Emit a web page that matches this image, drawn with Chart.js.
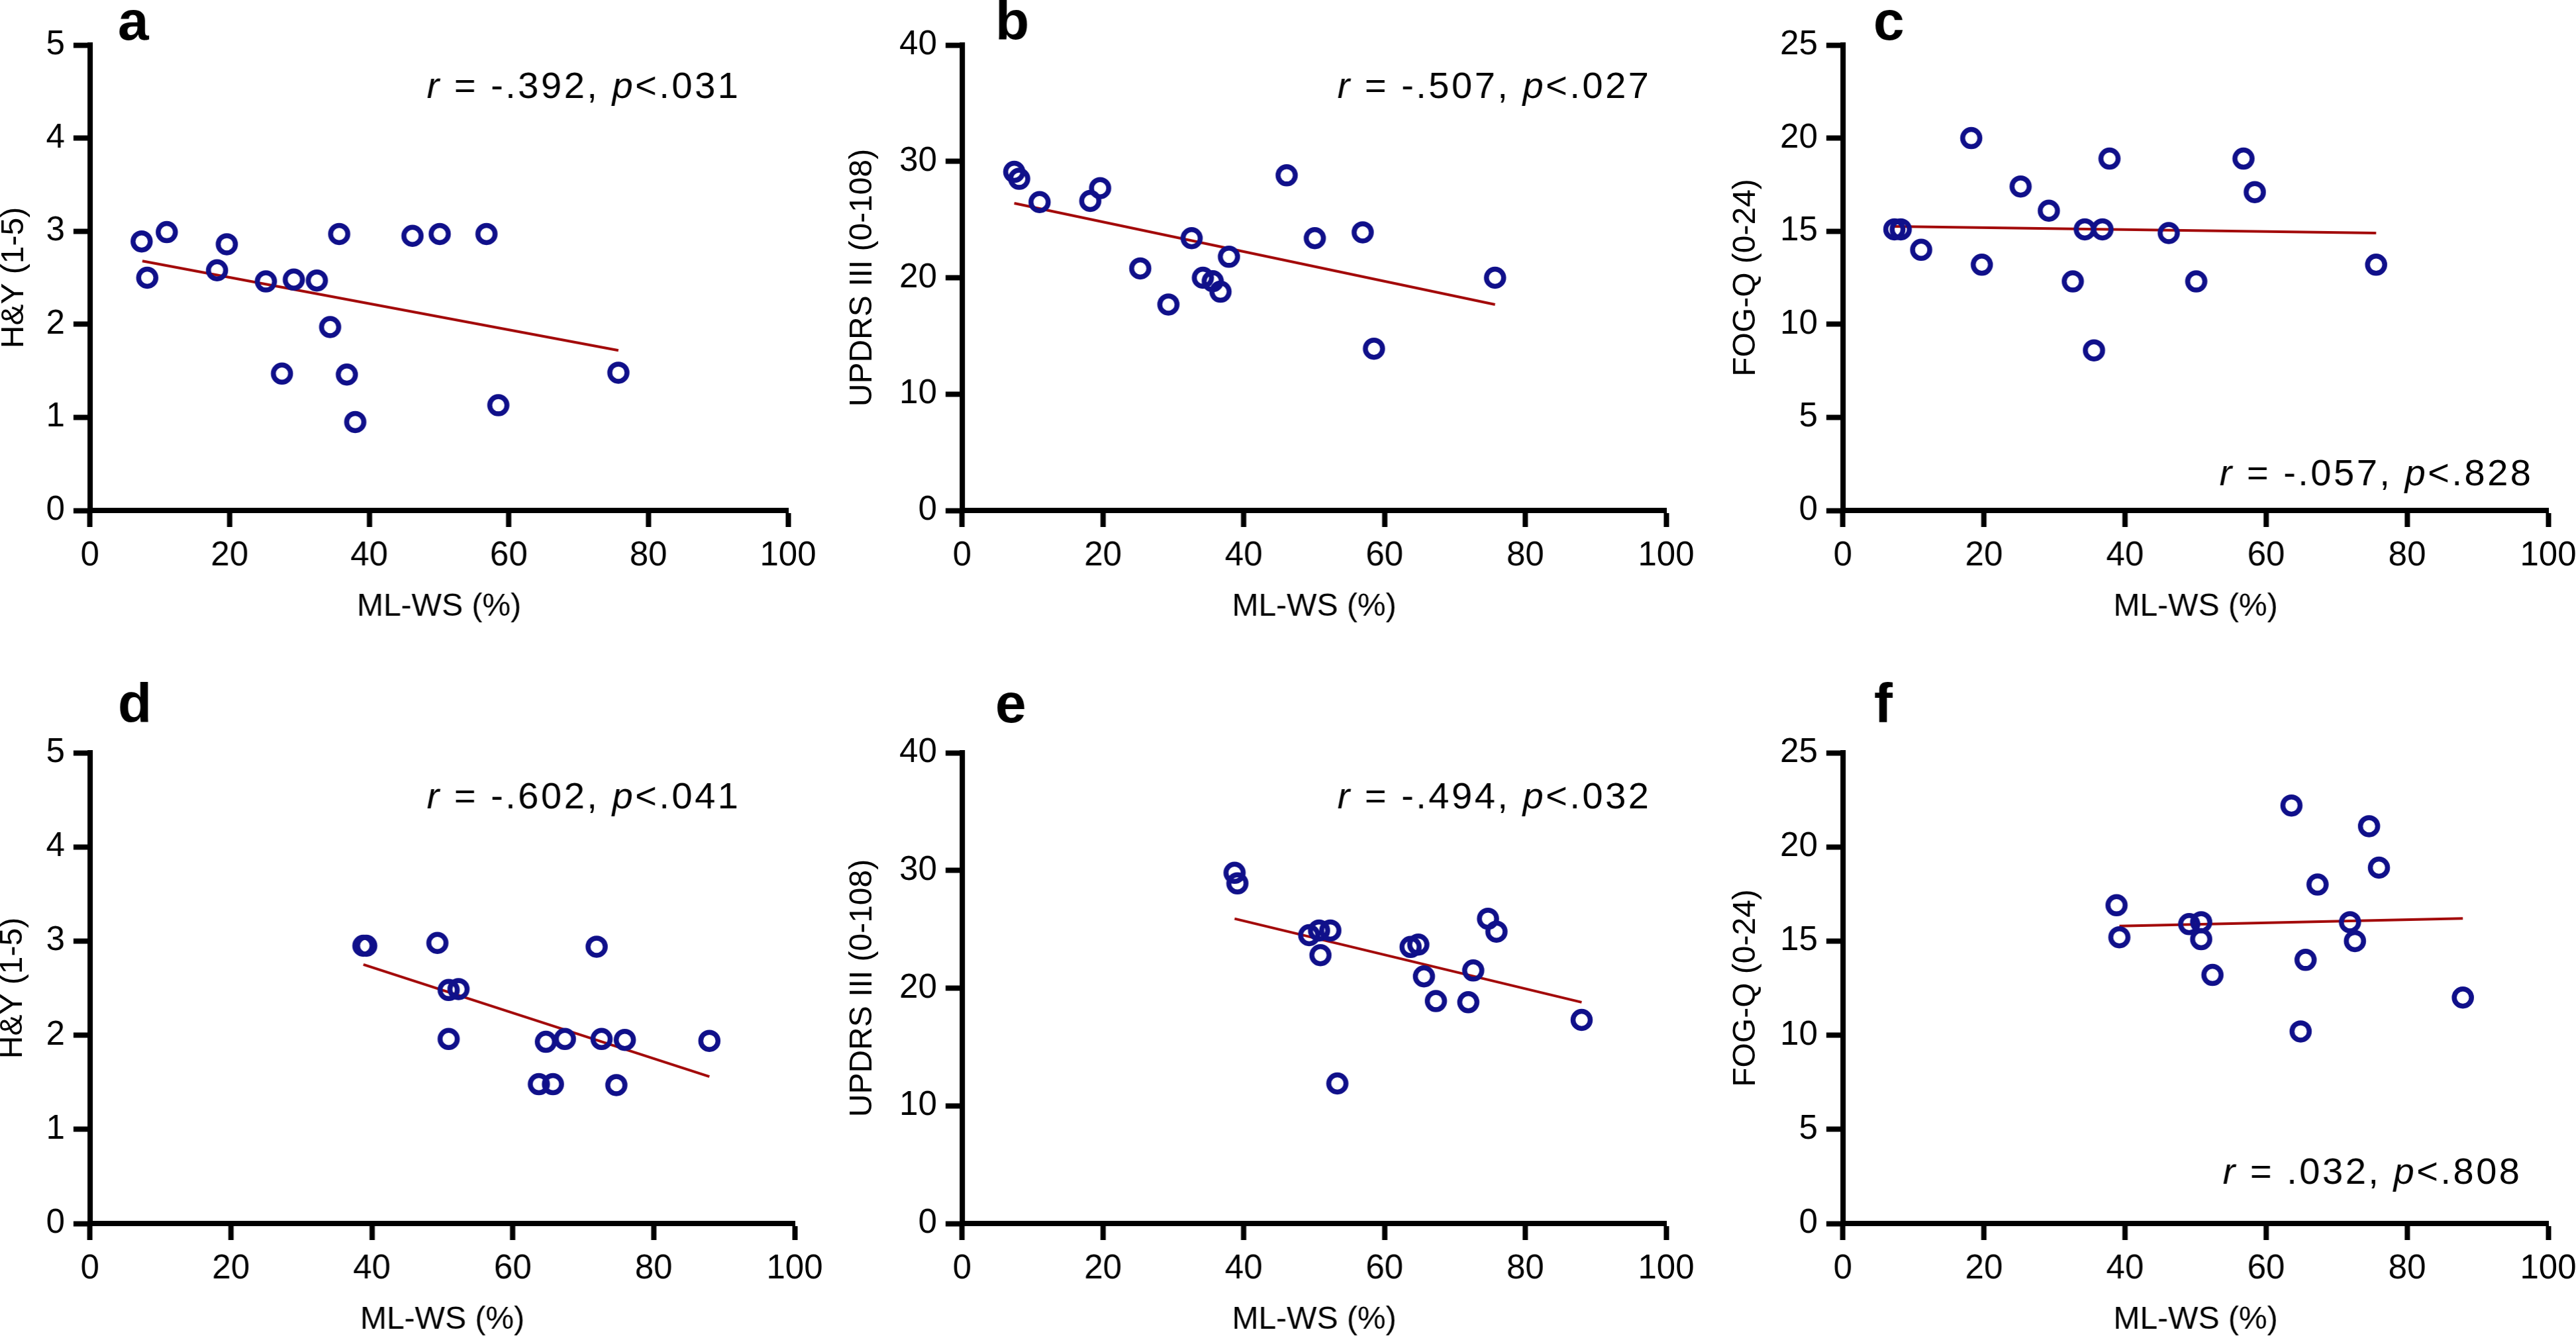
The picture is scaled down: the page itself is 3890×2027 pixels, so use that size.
<!DOCTYPE html>
<html>
<head>
<meta charset="utf-8">
<title>ML-WS correlations</title>
<script src="https://cdn.jsdelivr.net/npm/chart.js@4.4.1/dist/chart.umd.min.js"></script>
<style>
    html, body { margin: 0; padding: 0; background: #fff; }
    body { width: 3890px; height: 2027px; position: relative; overflow: hidden; }
    .panel { position: absolute; }
</style>
</head>
<body>
<script>
// ---- data ----
const xTicks = [0, 20, 40, 60, 80, 100];
const ticksHY = [0, 1, 2, 3, 4, 5];
const ticksUPDRS = [0, 10, 20, 30, 40];
const ticksFOG = [0, 5, 10, 15, 20, 25];

const xTitle = "ML-WS (%)";
const titleHY = "H&Y (1-5)";
const titleUPDRS = "UPDRS III (0-108)";
const titleFOG = "FOG-Q (0-24)";

const letters = ["a", "b", "c", "d", "e", "f"];
const notes = [
    "r = -.392, p<.031",
    "r = -.507, p<.027",
    "r = -.057, p<.828",
    "r = -.602, p<.041",
    "r = -.494, p<.032",
    "r = .032, p<.808"
];

const xA = [7.4, 8.2, 11.0, 18.2, 19.6, 25.2, 27.5, 29.2, 32.5, 34.4, 35.7, 36.8, 38.0, 46.2, 50.1, 56.8, 58.5, 75.7];
const yA = [2.89, 2.50, 2.99, 2.58, 2.86, 2.46, 1.47, 2.48, 2.47, 1.97, 2.97, 1.46, 0.95, 2.95, 2.97, 2.97, 1.13, 1.48];
const fitXA = [7.5, 75.7];
const fitYA = [2.68, 1.72];

const xB = [7.4, 8.1, 11.0, 18.2, 19.6, 25.3, 29.3, 32.6, 34.2, 35.6, 36.7, 37.9, 46.1, 50.1, 56.9, 58.5, 75.7];
const yB = [29.1, 28.5, 26.5, 26.6, 27.7, 20.8, 17.7, 23.4, 20.0, 19.7, 18.8, 21.8, 28.8, 23.4, 23.9, 13.9, 20.0];
const fitXB = [7.4, 75.7];
const fitYB = [26.4, 17.7];

const xC = [7.3, 8.2, 11.1, 18.2, 19.7, 25.2, 29.2, 32.6, 34.3, 35.6, 36.8, 37.8, 46.2, 50.1, 56.8, 58.4, 75.6];
const yC = [15.1, 15.1, 14.0, 20.0, 13.2, 17.4, 16.1, 12.3, 15.1, 8.6, 15.1, 18.9, 14.9, 12.3, 18.9, 17.1, 13.2];
const fitXC = [7.3, 75.6];
const fitYC = [15.26, 14.9];

const xD = [38.8, 39.2, 49.3, 50.9, 52.3, 50.9, 64.7, 67.4, 63.7, 65.7, 71.9, 72.6, 75.9, 74.7, 87.9];
const yD = [2.95, 2.95, 2.98, 2.48, 2.49, 1.96, 1.93, 1.96, 1.48, 1.48, 2.94, 1.96, 1.95, 1.47, 1.94];
const fitXD = [38.8, 87.9];
const fitYD = [2.75, 1.56];

const xE = [38.7, 39.1, 49.3, 50.7, 52.3, 50.9, 53.3, 63.7, 64.8, 65.6, 67.3, 71.9, 72.6, 74.7, 75.9, 88.0];
const yE = [29.8, 28.9, 24.5, 24.9, 24.9, 22.8, 11.9, 23.5, 23.7, 21.0, 18.9, 18.8, 21.5, 25.9, 24.8, 17.3];
const fitXE = [38.7, 88.0];
const fitYE = [25.9, 18.8];

const xF = [38.8, 39.2, 49.1, 50.8, 50.8, 52.4, 63.6, 64.9, 65.6, 67.3, 71.9, 72.6, 74.6, 76.0, 87.9];
const yF = [16.9, 15.2, 15.9, 16.0, 15.1, 13.2, 22.2, 10.2, 14.0, 18.0, 16.0, 15.0, 21.1, 18.9, 12.0];
const fitXF = [39.2, 87.9];
const fitYF = [15.8, 16.2];

// ---- look ----
const NAVY = "#10108a";
const RED = "#a30a0a";
const FONT = "'Liberation Sans', Arial, sans-serif";
const X_AXIS_H = 175;

// plot rect [left, top, right, bottom], y-title distance, note placement, letter offset
const panels = [
    { x: xA, y: yA, fx: fitXA, fy: fitYA, ticks: ticksHY, title: titleHY,
      plot: [136, 68, 1190, 771], rowTop: 0, yTitleGap: 114, padR: 80,
      note: { right: 75, from: "top", dy: 80 }, letterDx: 42, letterY: 60 },
    { x: xB, y: yB, fx: fitXB, fy: fitYB, ticks: ticksUPDRS, title: titleUPDRS,
      plot: [1453, 68, 2516, 771], rowTop: 0, yTitleGap: 150, padR: 80,
      note: { right: 26, from: "top", dy: 80 }, letterDx: 50, letterY: 60 },
    { x: xC, y: yC, fx: fitXC, fy: fitYC, ticks: ticksFOG, title: titleFOG,
      plot: [2783, 68, 3848, 771], rowTop: 0, yTitleGap: 146, padR: 42,
      note: { right: 26, from: "bottom", dy: 38 }, letterDx: 46, letterY: 60 },
    { x: xD, y: yD, fx: fitXD, fy: fitYD, ticks: ticksHY, title: titleHY,
      plot: [136, 1137, 1200, 1848], rowTop: 1010, yTitleGap: 116, padR: 70,
      note: { right: 85, from: "top", dy: 84 }, letterDx: 42, letterY: 81 },
    { x: xE, y: yE, fx: fitXE, fy: fitYE, ticks: ticksUPDRS, title: titleUPDRS,
      plot: [1453, 1137, 2516, 1848], rowTop: 1010, yTitleGap: 150, padR: 80,
      note: { right: 26, from: "top", dy: 84 }, letterDx: 50, letterY: 81 },
    { x: xF, y: yF, fx: fitXF, fy: fitYF, ticks: ticksFOG, title: titleFOG,
      plot: [2783, 1137, 3848, 1848], rowTop: 1010, yTitleGap: 146, padR: 42,
      note: { right: 43, from: "bottom", dy: 60 }, letterDx: 47, letterY: 81 }
];

function toPoints(xs, ys) {
    let pts = [];
    for (let i = 0; i < xs.length; i++) {
        pts.push({ x: xs[i], y: ys[i] });
    }
    return pts;
}

// draws the panel letter and the r / p note, with italic r and p
function textPlugin(letter, note, cfg) {
    return {
        id: "panelText" + letter,
        afterDraw(chart) {
            const ctx = chart.ctx;
            const area = chart.chartArea;
            ctx.save();
            ctx.fillStyle = "#000";
            ctx.textBaseline = "alphabetic";
            ctx.textAlign = "left";
            ctx.font = "bold 84px " + FONT;
            ctx.fillText(letter, area.left + cfg.letterDx, cfg.letterY);

            const spacing = 3.5;
            const size = 56;
            let widths = [];
            let total = 0;
            for (const ch of note) {
                ctx.font = (ch === "r" || ch === "p" ? "italic " : "") + size + "px " + FONT;
                const w = ctx.measureText(ch).width;
                widths.push(w);
                total += w + spacing;
            }
            total -= spacing;
            let x = area.right - cfg.note.right - total;
            const y = cfg.note.from === "top" ? area.top + cfg.note.dy : area.bottom - cfg.note.dy;
            let i = 0;
            for (const ch of note) {
                ctx.font = (ch === "r" || ch === "p" ? "italic " : "") + size + "px " + FONT;
                ctx.fillText(ch, x, y);
                x += widths[i] + spacing;
                i++;
            }
            ctx.restore();
        }
    };
}

function makePanel(p, idx) {
    const yW = p.yTitleGap + 28.8;
    const left = p.plot[0] - yW;
    const top = p.rowTop;
    const width = (p.plot[2] - p.plot[0]) + yW + p.padR;
    const height = (p.plot[3] - top) + X_AXIS_H;

    const box = document.createElement("div");
    box.className = "panel";
    box.style.left = left + "px";
    box.style.top = top + "px";
    const canvas = document.createElement("canvas");
    canvas.width = width;
    canvas.height = height;
    canvas.style.width = width + "px";
    canvas.style.height = height + "px";
    box.appendChild(canvas);
    document.body.appendChild(box);

    const yMax = p.ticks[p.ticks.length - 1];

    new Chart(canvas, {
        type: "scatter",
        data: {
            datasets: [
                {
                    type: "line",
                    data: toPoints(p.fx, p.fy),
                    borderColor: RED,
                    borderWidth: 4,
                    pointRadius: 0,
                    fill: false,
                    clip: false,
                    order: 2
                },
                {
                    data: toPoints(p.x, p.y),
                    pointRadius: 13,
                    pointBorderWidth: 7.5,
                    pointBorderColor: NAVY,
                    pointBackgroundColor: "rgba(0,0,0,0)",
                    clip: false,
                    order: 1
                }
            ]
        },
        options: {
            responsive: false,
            animation: false,
            events: [],
            devicePixelRatio: 1,
            layout: { padding: { top: p.plot[1] - top, right: p.padR, left: 0, bottom: 0 } },
            plugins: { legend: { display: false }, tooltip: { enabled: false } },
            scales: {
                x: {
                    type: "linear",
                    min: 0,
                    max: 100,
                    afterBuildTicks: s => { s.ticks = xTicks.map(v => ({ value: v })); },
                    afterFit: s => { s.height = X_AXIS_H; s.paddingLeft = 0; s.paddingRight = 0; },
                    grid: { drawOnChartArea: false, drawTicks: true, tickLength: 25, tickWidth: 8, tickColor: "#000" },
                    border: { display: true, color: "#000", width: 8 },
                    ticks: { color: "#000", padding: 13, maxRotation: 0, font: { family: FONT, size: 51 } },
                    title: { display: true, text: xTitle, color: "#000", padding: 0, font: { family: FONT, size: 48 } }
                },
                y: {
                    type: "linear",
                    min: 0,
                    max: yMax,
                    afterBuildTicks: s => { s.ticks = p.ticks.map(v => ({ value: v })); },
                    afterFit: s => { s.width = yW; s.paddingTop = 0; s.paddingBottom = 0; },
                    grid: { drawOnChartArea: false, drawTicks: true, tickLength: 25, tickWidth: 8, tickColor: "#000" },
                    border: { display: true, color: "#000", width: 8 },
                    ticks: { color: "#000", padding: 13, font: { family: FONT, size: 51 } },
                    title: { display: true, text: p.title, color: "#000", padding: 0, font: { family: FONT, size: 48 } }
                }
            }
        },
        plugins: [textPlugin(letters[idx], notes[idx], p)]
    });
}

document.addEventListener("DOMContentLoaded", () => {
    panels.forEach((p, i) => makePanel(p, i));
});
</script>
</body>
</html>
